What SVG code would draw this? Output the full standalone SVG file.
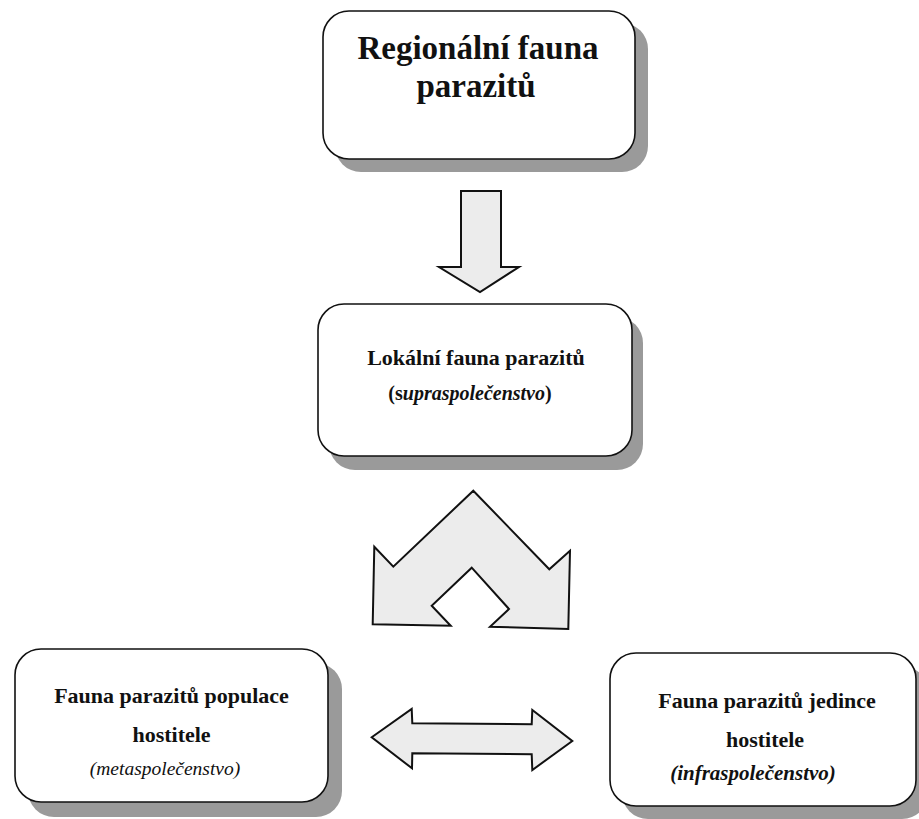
<svg xmlns="http://www.w3.org/2000/svg" width="919" height="819" viewBox="0 0 919 819">
<style>
.shadow{fill:#9a9a9a;stroke:none}
.box{fill:#ffffff;stroke:#111;stroke-width:1.6}
.arrow{fill:#ececec;stroke:#111;stroke-width:2;stroke-linejoin:miter}
text{font-family:"Liberation Serif","Times New Roman",serif;fill:#111;text-anchor:middle}
.b{font-weight:bold}
.i{font-style:italic}
</style>
<rect width="919" height="819" fill="#ffffff"/>
<g id="node-regional">
<rect class="shadow" x="335" y="23" width="313" height="149" rx="26"/>
<rect class="box" x="323" y="11" width="312" height="148" rx="26"/>
<text class="b" x="478" y="59" font-size="33">Regionální fauna</text>
<text class="b" x="476" y="97" font-size="33">parazitů</text>
</g>
<g id="node-local">
<rect class="shadow" x="329" y="317" width="314" height="153" rx="26"/>
<rect class="box" x="318" y="304" width="314" height="152" rx="26"/>
<text class="b" x="476" y="365" font-size="22">Lokální fauna parazitů</text>
<text class="b" x="470" y="400" font-size="20">(s<tspan class="i">upraspolečenstvo</tspan>)</text>
</g>
<g id="node-population">
<rect class="shadow" x="28" y="663" width="314" height="154" rx="26"/>
<rect class="box" x="15" y="649" width="313" height="153" rx="26"/>
<text class="b" x="171.5" y="703" font-size="22">Fauna parazitů populace</text>
<text class="b" x="171.5" y="742" font-size="22">hostitele</text>
<text class="i" x="165" y="775" font-size="19.5">(metaspolečenstvo)</text>
</g>
<g id="node-individual">
<rect class="shadow" x="622" y="666" width="306" height="153" rx="26"/>
<rect class="box" x="610" y="653" width="306" height="153" rx="26"/>
<text class="b" x="767" y="708" font-size="22">Fauna parazitů jedince</text>
<text class="b" x="765" y="747" font-size="22">hostitele</text>
<text class="b i" x="753" y="780" font-size="21">(infraspolečenstvo)</text>
</g>
<g id="connectors">
<polygon class="arrow" points="461,191 501,191 501,267 519,267 480,292 439,267 461,267"/>
<polygon class="arrow" points="473.3,490.7 549.3,569.3 570,550.7 568.3,629 490,626.7 509,609 471.7,567.7 431.7,605.7 450.7,625.7 372.7,624.3 374.3,546.7 393.3,566.7"/>
<polygon class="arrow" points="371.7,737.3 411.7,709 412.3,723.3 531.7,724.3 532.3,710 572.3,741 532.3,770 531.7,754.3 412.3,753.3 412,768.3"/>
</g>
</svg>
